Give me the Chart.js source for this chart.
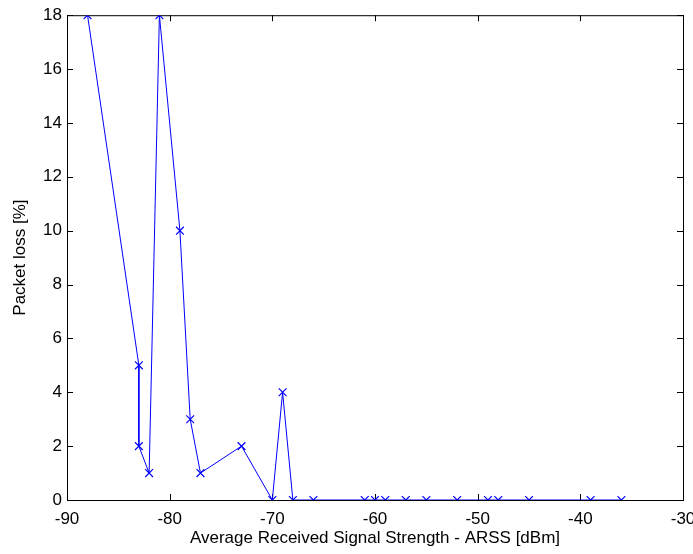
<!DOCTYPE html>
<html>
<head>
<meta charset="utf-8">
<script src="https://cdn.jsdelivr.net/npm/chart.js@4/dist/chart.umd.min.js"></script>
<style>
  html, body { margin: 0; padding: 0; background: #fff; }
  #wrap { width: 693px; height: 554px; position: relative; }
</style>
</head>
<body>
<div id="wrap"><canvas id="lossChart"></canvas></div>
<script>
// ARSS (dBm) and packet loss (%)
const arss = [-88, -83, -83, -82, -81, -79, -78, -77, -73, -70, -69, -68, -66, -61, -60, -59, -57, -55, -52, -49, -48, -45, -39, -36];
const packetLoss = [18, 5, 2, 1, 18, 10, 3, 1, 2, 0, 4, 0, 0, 0, 0, 0, 0, 0, 0, 0, 0, 0, 0, 0];
const xTicks = [-90, -80, -70, -60, -50, -40, -30];
const yTicks = [0, 2, 4, 6, 8, 10, 12, 14, 16, 18];

const fontFamily = '"Liberation Sans", Arial, sans-serif';

// MATLAB style box with inward ticks on all four sides
const boxPlugin = {
    id: 'boxPlugin',
    beforeDatasetsDraw(chart) {
        const { ctx, chartArea: a, scales } = chart;
        ctx.save();
        ctx.strokeStyle = '#000';
        ctx.lineWidth = 1;
        ctx.strokeRect(a.left + 0.5, a.top + 0.5, a.right - a.left, a.bottom - a.top);
        ctx.beginPath();
        xTicks.forEach(v => {
            const px = Math.round(scales.x.getPixelForValue(v)) + 0.5;
            ctx.moveTo(px, a.bottom); ctx.lineTo(px, a.bottom - 6);
            ctx.moveTo(px, a.top); ctx.lineTo(px, a.top + 6);
        });
        yTicks.forEach(v => {
            const py = Math.round(scales.y.getPixelForValue(v)) + 0.5;
            ctx.moveTo(a.left, py); ctx.lineTo(a.left + 6, py);
            ctx.moveTo(a.right, py); ctx.lineTo(a.right - 6, py);
        });
        ctx.stroke();
        ctx.restore();
    }
};

const ctx = document.getElementById('lossChart').getContext('2d');
new Chart(ctx, {
    type: 'scatter',
    data: {
        datasets: [{
            label: 'Packet loss',
            data: arss.map((x, i) => ({ x: x, y: packetLoss[i] })),
            showLine: true,
            borderColor: '#0000ff',
            backgroundColor: '#0000ff',
            borderWidth: 1,
            pointStyle: 'crossRot',
            pointRadius: 5.5,
            pointBorderWidth: 1.2,
            pointHoverRadius: 5.5,
            tension: 0
        }]
    },
    options: {
        responsive: true,
        maintainAspectRatio: false,
        animation: false,
        layout: { padding: { top: 15, right: 10, left: 0, bottom: 0 } },
        plugins: {
            legend: { display: false },
            tooltip: { enabled: false }
        },
        scales: {
            x: {
                type: 'linear',
                min: -90,
                max: -30,
                afterBuildTicks: scale => { scale.ticks = xTicks.map(v => ({ value: v })); },
                afterFit: scale => {
                    scale.height = 54;
                    scale.paddingLeft = 0;
                    scale.paddingRight = 0;
                },
                grid: { display: false, drawTicks: false },
                border: { display: false },
                ticks: { color: '#000', padding: 9, maxRotation: 0, font: { family: fontFamily, size: 17 } },
                title: {
                    display: true,
                    text: 'Average Received Signal Strength - ARSS [dBm]',
                    color: '#000',
                    font: { family: fontFamily, size: 17 },
                    padding: { top: 0, bottom: 5 }
                }
            },
            y: {
                min: 0,
                max: 18,
                afterBuildTicks: scale => { scale.ticks = yTicks.map(v => ({ value: v })); },
                afterFit: scale => { scale.width = 67; },
                grid: { display: false, drawTicks: false },
                border: { display: false },
                ticks: { color: '#000', padding: 5, font: { family: fontFamily, size: 17 } },
                title: {
                    display: true,
                    text: 'Packet loss [%]',
                    color: '#000',
                    font: { family: fontFamily, size: 17 },
                    padding: { top: 10, bottom: 0 }
                }
            }
        }
    },
    plugins: [boxPlugin]
});
</script>
</body>
</html>
